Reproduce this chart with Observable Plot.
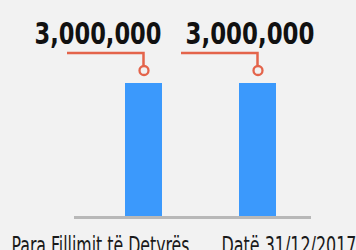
<!DOCTYPE html>
<html><head><meta charset="utf-8">
<script src="https://cdn.jsdelivr.net/npm/d3@7"></script>
<script src="https://cdn.jsdelivr.net/npm/@observablehq/plot@0.6"></script>
<style>
html,body{margin:0;padding:0;background:#f2f2f2;overflow:hidden}
</style></head><body><div id="chart"></div>
<script>
const categories = ["Para Fillimit të Detyrës", "Datë 31/12/2017"];
const values = [3000000, 3000000];
const valueLabels = ["3,000,000", "3,000,000"];
const data = categories.map((c, i) => ({category: c, value: values[i], label: valueLabels[i]}));

const BLUE = "#3b99fc", RED = "#e4644b", GRAY = "#b8b8b8";
const FONT = "'DejaVu Sans', sans-serif";

function leader(index, scales) {
  const g = d3.create("svg:g").attr("fill", "none").attr("stroke", RED).attr("stroke-width", 2.5);
  const x = scales.x, y = scales.y;
  const bw = typeof x.bandwidth === "function" ? x.bandwidth() : x.bandwidth;
  for (const d of data) {
    const cx = x(d.category) + bw / 2;
    const top = y(d.value);
    g.append("path").attr("d", `M${cx - 76.5},${top - 30}H${cx}V${top - 17.5}`);
  }
  return g.node();
}

const first = (d, i) => i === 0;
const second = (d, i) => i === 1;

const plot = Plot.plot({
  width: 356, height: 250,
  marginLeft: 74, marginRight: 45, marginTop: 83, marginBottom: 34,
  style: {background: "#f2f2f2", fontFamily: FONT, fontStretch: "condensed", overflow: "visible"},
  x: {domain: categories, axis: null, paddingInner: 0.678, paddingOuter: 0.3695, align: 0.588},
  y: {domain: [0, 3000000], axis: null},
  marks: [
    Plot.ruleY([0], {stroke: GRAY, strokeWidth: 3, dy: 1}),
    Plot.barY(data, {x: "category", y: "value", fill: BLUE}),
    leader,
    Plot.dot(data, {x: "category", y: "value", dy: -13, r: 4.5, stroke: RED, strokeWidth: 2.3, fill: "none"}),
    Plot.text(data.filter(first), {x: "category", y: "value", text: "label", textAnchor: "start", lineAnchor: "bottom", dx: -109.5, dy: -40, fontSize: 31, fontWeight: "bold", fill: "#111", ariaDescription: "w127"}),
    Plot.text(data.filter(second), {x: "category", y: "value", text: "label", textAnchor: "start", lineAnchor: "bottom", dx: -72.5, dy: -40, fontSize: 31, fontWeight: "bold", fill: "#111", ariaDescription: "w129"}),
    Plot.text(data.filter(first), {x: "category", y: 0, text: "category", textAnchor: "start", lineAnchor: "bottom", dx: -132.5, dy: 37, fontSize: 24, fill: "#1a1a1a", ariaDescription: "w178"}),
    Plot.text(data.filter(second), {x: "category", y: 0, text: "category", textAnchor: "start", lineAnchor: "bottom", dx: -36.5, dy: 37, fontSize: 24, fill: "#1a1a1a", ariaDescription: "w135"})
  ]
});

d3.select(plot).selectAll("g[aria-description]").each(function() {
  const m = /^w(\d+)$/.exec(this.getAttribute("aria-description"));
  if (!m) return;
  d3.select(this).selectAll("text")
    .attr("textLength", +m[1])
    .attr("lengthAdjust", "spacingAndGlyphs");
});
document.getElementById("chart").appendChild(plot);
</script>
</body></html>
